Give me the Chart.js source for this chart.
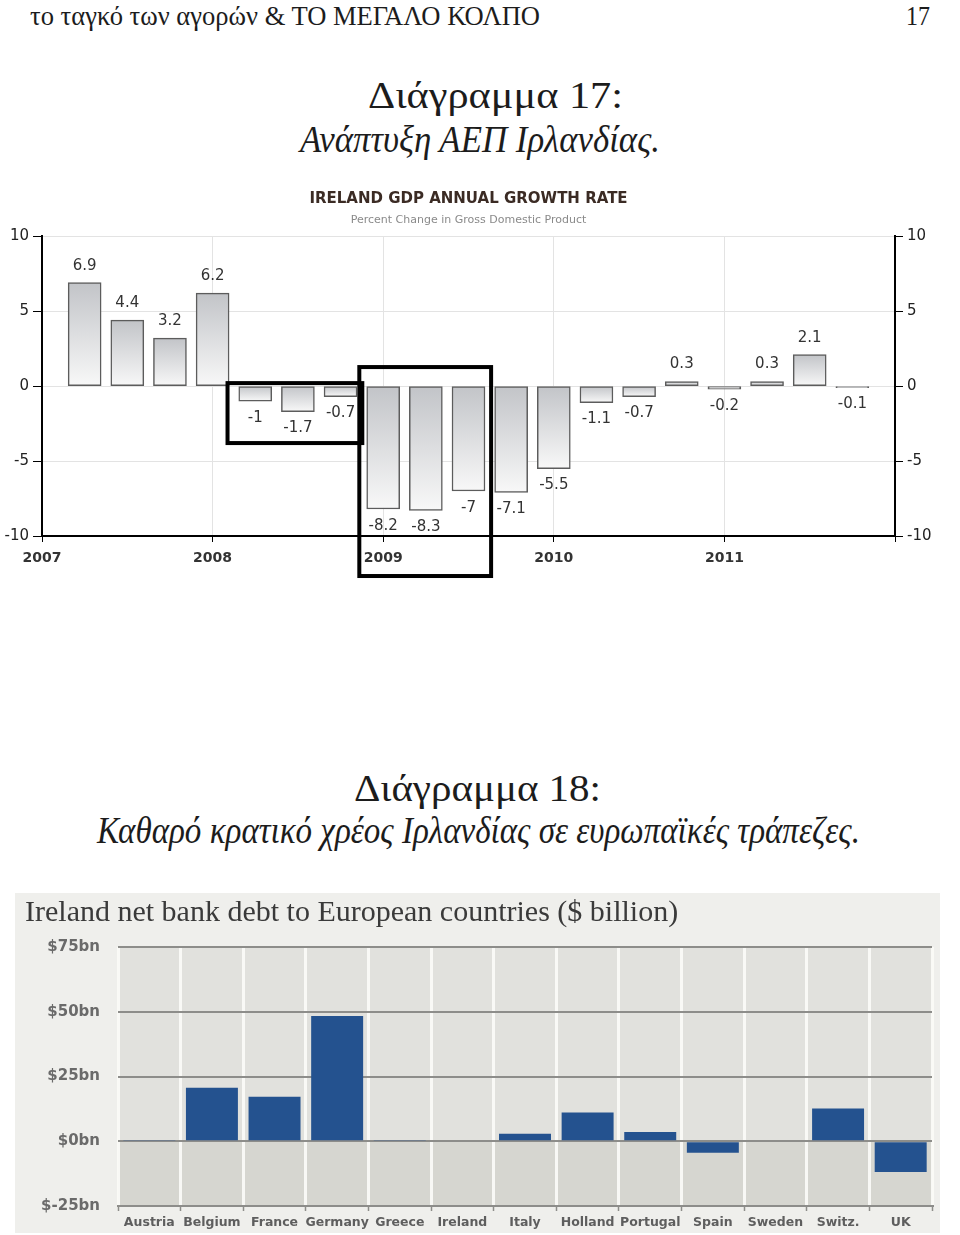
<!DOCTYPE html>
<html>
<head>
<meta charset="utf-8">
<script src="https://cdn.jsdelivr.net/npm/chart.js@4.4.1/dist/chart.umd.min.js"></script>
<style>
  html, body { margin: 0; padding: 0; background: #fff; }
  body { width: 960px; height: 1235px; position: relative; overflow: hidden;
         font-family: "Liberation Serif", "DejaVu Serif", serif; color: #1c1c1c; }
  .t { position: absolute; white-space: nowrap; line-height: 1; transform-origin: 0 0; }
  .it { font-style: italic; }
  canvas { position: absolute; }
</style>
</head>
<body>
<span class="t" data-x="30" data-w="510" style="top:2px;font-size:28px">το ταγκό των αγορών &amp; ΤΟ ΜΕΓΑΛΟ ΚΟΛΠΟ</span>
<span class="t" data-x="906" data-w="24" style="top:2px;font-size:28px">17</span>
<span class="t" data-cx="495" data-w="255" style="top:77px;font-size:37px">Διάγραμμα 17:</span>
<span class="t it" data-cx="480" data-w="360" style="top:121px;font-size:37px">Ανάπτυξη ΑΕΠ Ιρλανδίας.</span>
<span class="t" data-cx="477" data-w="247" style="top:770px;font-size:37px">Διάγραμμα 18:</span>
<span class="t it" data-cx="478" data-w="763" style="top:812px;font-size:37px">Καθαρό κρατικό χρέος Ιρλανδίας σε ευρωπαϊκές τράπεζες.</span>

<canvas id="gdp" width="960" height="410" style="left:0;top:180px;width:960px;height:410px"></canvas>
<canvas id="debt" width="925" height="340" style="left:15px;top:893px;width:925px;height:340px"></canvas>

<script>
"use strict";

// --- Diagram 17: Ireland GDP annual growth rate (quarterly, %) ---
const quarters = [
  "2007Q1", "2007Q2", "2007Q3", "2007Q4",
  "2008Q1", "2008Q2", "2008Q3", "2008Q4",
  "2009Q1", "2009Q2", "2009Q3", "2009Q4",
  "2010Q1", "2010Q2", "2010Q3", "2010Q4",
  "2011Q1", "2011Q2", "2011Q3",
];
const gdpGrowth = [6.9, 4.4, 3.2, 6.2, -1, -1.7, -0.7, -8.2, -8.3, -7, -7.1, -5.5, -1.1, -0.7, 0.3, -0.2, 0.3, 2.1, -0.1];
const yearTicks = ["2007", "2008", "2009", "2010", "2011"];

// highlight frames drawn on the scan, in axis units (quarters, percent)
const frames = [
  { x0: 4.35, x1: 7.51, y0: 0.2, y1: -3.8 },
  { x0: 7.44, x1: 10.53, y0: 1.27, y1: -12.67 },
];

// --- Diagram 18: Ireland net bank debt to European countries ($bn) ---
const countries = ["Austria", "Belgium", "France", "Germany", "Greece", "Ireland", "Italy",
                   "Holland", "Portugal", "Spain", "Sweden", "Switz.", "UK"];
const netDebt = [0.5, 20.7, 17.2, 48.4, 0.5, 0, 2.9, 11.1, 3.6, -4.4, 0, 12.6, -11.9];

const SANS = '"DejaVu Sans", Verdana, sans-serif';

// squeeze the page headings to the widths of the scanned typeface
document.querySelectorAll(".t").forEach(el => {
  const w = el.getBoundingClientRect().width;
  const target = +el.dataset.w;
  const left = el.dataset.cx ? +el.dataset.cx - target / 2 : +el.dataset.x;
  el.style.left = left + "px";
  el.style.transform = "scaleX(" + (target / w) + ")";
});

function barGradient(c) {
  const chart = c.chart;
  if (!chart.chartArea || c.type !== "data") return "#d8d9dc";
  const ys = chart.scales.y, v = c.parsed.y;
  const top = ys.getPixelForValue(Math.max(v, 0));
  const bot = ys.getPixelForValue(Math.min(v, 0));
  if (bot - top < 2) return "#c8c9cc";
  const g = chart.ctx.createLinearGradient(0, top, 0, bot);
  g.addColorStop(0, "#c2c4c8");
  g.addColorStop(1, "#f8f8f8");
  return g;
}

const valueLabels = {
  id: "valueLabels",
  afterDatasetsDraw(chart) {
    const ctx = chart.ctx;
    ctx.save();
    ctx.font = "15px " + SANS;
    ctx.fillStyle = "#333";
    ctx.textAlign = "center";
    ctx.textBaseline = "middle";
    chart.getDatasetMeta(0).data.forEach((bar, i) => {
      const v = gdpGrowth[i];
      ctx.fillText(String(v), bar.x, v >= 0 ? bar.y - 17 : bar.y + 17);
    });
    ctx.restore();
  },
};

const highlightFrames = {
  id: "highlightFrames",
  afterDraw(chart) {
    const { ctx, scales: { x, y } } = chart;
    ctx.save();
    ctx.strokeStyle = "#000";
    ctx.lineWidth = 4;
    frames.forEach(f => {
      const l = x.getPixelForValue(f.x0), r = x.getPixelForValue(f.x1);
      const t = y.getPixelForValue(f.y0), b = y.getPixelForValue(f.y1);
      ctx.strokeRect(l, t, r - l, b - t);
    });
    ctx.restore();
  },
};

new Chart(document.getElementById("gdp"), {
  type: "bar",
  data: {
    datasets: [{
      label: "GDP growth",
      data: gdpGrowth.map((v, i) => ({ x: i + 1, y: v, q: quarters[i] })),
      backgroundColor: barGradient,
      borderColor: "#5c5c5c",
      borderWidth: 1.5,
      borderSkipped: false,
      barThickness: 33,
    }],
  },
  options: {
    responsive: false,
    animation: false,
    devicePixelRatio: 1,
    layout: { padding: 0 },
    plugins: {
      legend: { display: false },
      tooltip: { enabled: false },
      title: {
        display: true, text: "IRELAND GDP ANNUAL GROWTH RATE", fullSize: false,
        color: "#3b2b24", font: { family: SANS, size: 15, weight: "bold" },
        padding: { top: 10, bottom: 4 },
      },
      subtitle: {
        display: true, text: "Percent Change in Gross Domestic Product", fullSize: false,
        color: "#8a8a8a", font: { family: SANS, size: 11 },
        padding: { top: 2, bottom: 9 },
      },
    },
    scales: {
      x: {
        type: "linear", min: 0, max: 20, offset: false,
        ticks: {
          stepSize: 4, autoSkip: false, maxRotation: 0, padding: 8,
          callback: v => yearTicks[v / 4] ?? "",
          color: "#333", font: { family: SANS, size: 14, weight: "bold" },
        },
        grid: { offset: false, color: "#e3e3e3", tickColor: "#000", tickLength: 6 },
        border: { color: "#000", width: 2 },
        afterFit: s => { s.height = 54; },
      },
      y: {
        min: -10, max: 10,
        ticks: { stepSize: 5, padding: 4, color: "#222", font: { family: SANS, size: 15 } },
        grid: { color: "#e3e3e3", tickColor: "#000", tickLength: 9 },
        border: { color: "#000", width: 2 },
        afterFit: s => { s.width = 42; },
      },
      y2: {
        position: "right", min: -10, max: 10,
        ticks: { stepSize: 5, padding: 4, color: "#222", font: { family: SANS, size: 15 } },
        grid: { drawOnChartArea: false, tickColor: "#000", tickLength: 8 },
        border: { color: "#000", width: 2 },
        afterFit: s => { s.width = 65; },
      },
    },
  },
  plugins: [valueLabels, highlightFrames],
});

const plotBackdrop = {
  id: "plotBackdrop",
  beforeDraw(chart) {
    const { ctx, chartArea: a, scales: { y } } = chart;
    const zero = y.getPixelForValue(0);
    ctx.save();
    ctx.fillStyle = "#efefec";
    ctx.fillRect(0, 0, chart.width, chart.height);
    ctx.fillStyle = "#e1e1dd";
    ctx.fillRect(a.left, a.top, a.right - a.left, zero - a.top);
    ctx.fillStyle = "#d6d6d0";
    ctx.fillRect(a.left, zero, a.right - a.left, a.bottom - zero);
    ctx.restore();
  },
};

new Chart(document.getElementById("debt"), {
  type: "bar",
  data: {
    labels: countries,
    datasets: [{
      label: "Net bank debt",
      data: netDebt,
      backgroundColor: "#24528f",
      barPercentage: 0.83,
      categoryPercentage: 1,
    }],
  },
  options: {
    responsive: false,
    animation: false,
    devicePixelRatio: 1,
    layout: { padding: { left: 10, right: 8, top: 0, bottom: 0 } },
    plugins: {
      legend: { display: false },
      tooltip: { enabled: false },
      title: {
        display: true, align: "start",
        text: "Ireland net bank debt to European countries ($ billion)",
        color: "#3a3a3a", font: { family: '"Liberation Serif", serif', size: 30, weight: "normal" },
        padding: { top: 2, bottom: 16 },
      },
    },
    scales: {
      x: {
        grid: { offset: true, color: "rgba(250,250,247,0.95)", lineWidth: 3,
                tickColor: "#8d8d8a", tickLength: 5, tickWidth: 1.5 },
        border: { color: "#8d8d8a", width: 2 },
        ticks: { autoSkip: false, maxRotation: 0, padding: 4, color: "#5e5e5e",
                 font: { family: SANS, size: 12.5, weight: "bold" } },
        afterFit: s => { s.height = 26; },
      },
      y: {
        min: -25, max: 75,
        ticks: { stepSize: 25, padding: 18, color: "#6a6a6a",
                 callback: v => "$" + v + "bn",
                 font: { family: SANS, size: 15, weight: "bold" } },
        grid: { color: "#8d8d8a", lineWidth: 2, drawTicks: false },
        border: { display: false },
        afterFit: s => { s.width = 93; },
      },
    },
  },
  plugins: [plotBackdrop],
});
</script>
</body>
</html>
